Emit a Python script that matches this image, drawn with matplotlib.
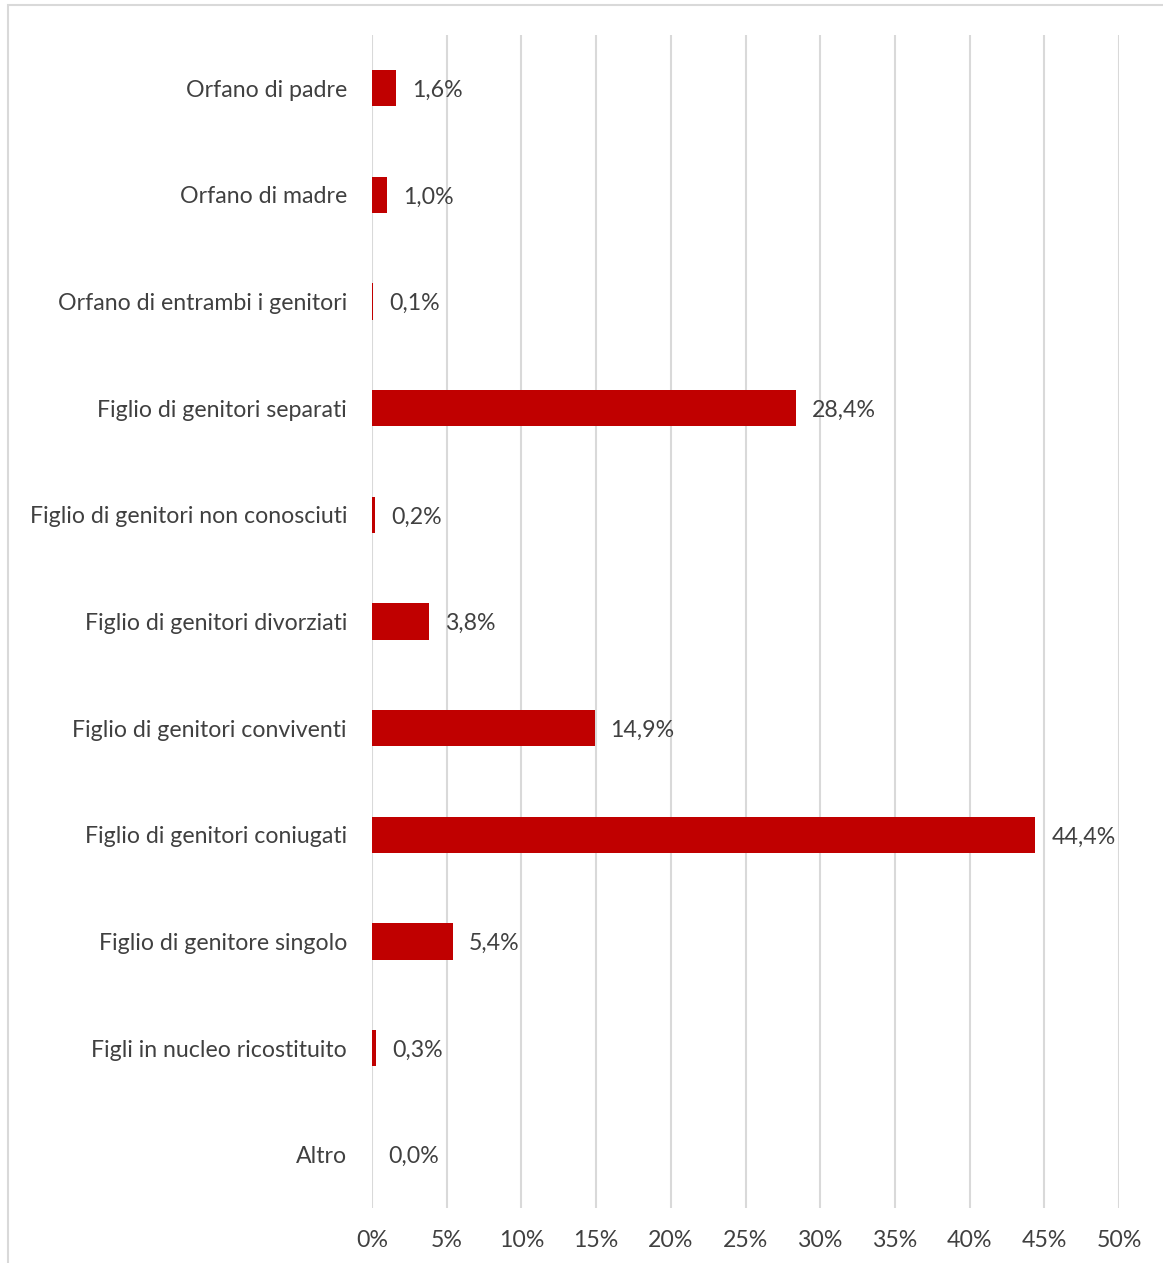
import matplotlib.pyplot as plt
from matplotlib.patches import Rectangle

# Categories and shares (percent), top to bottom
categories = [
    "Orfano di padre",
    "Orfano di madre",
    "Orfano di entrambi i genitori",
    "Figlio di genitori separati",
    "Figlio di genitori non conosciuti",
    "Figlio di genitori divorziati",
    "Figlio di genitori conviventi",
    "Figlio di genitori coniugati",
    "Figlio di genitore singolo",
    "Figli in nucleo ricostituito",
    "Altro",
]
shares = [1.6, 1.0, 0.1, 28.4, 0.2, 3.8, 14.9, 44.4, 5.4, 0.3, 0.0]
x_ticks = list(range(0, 55, 5))

BAR_COLOR = "#C00000"
TEXT_COLOR = "#404040"
GRID_COLOR = "#D9D9D9"
FS = 16.7

plt.rcParams["font.family"] = ["Lato", "DejaVu Sans"]

fig = plt.figure(figsize=(11.63, 12.63), dpi=100)
ax = fig.add_axes([372 / 1163, 1 - 1208 / 1263, (1119 - 372) / 1163, (1208 - 35) / 1263])

ypos = list(range(len(categories)))
ax.barh(ypos, shares, height=0.34, color=BAR_COLOR, zorder=3)

for y, v in zip(ypos, shares):
    ax.annotate(f"{v:.1f}%".replace(".", ","), xy=(v, y), xytext=(11.5, -1.5),
                textcoords="offset points", va="center", ha="left",
                fontsize=FS, color=TEXT_COLOR)

ax.set_xlim(0, 50)
ax.set_ylim(len(categories) - 0.5, -0.5)
ax.set_xticks(x_ticks)
ax.set_xticklabels([f"{t}%" for t in x_ticks])
ax.set_yticks(ypos)
ax.set_yticklabels(categories)

ax.tick_params(axis="x", length=0, pad=16, labelsize=FS, labelcolor=TEXT_COLOR)
ax.tick_params(axis="y", length=0, pad=18, labelsize=FS, labelcolor=TEXT_COLOR)
ax.grid(axis="x", color=GRID_COLOR, linewidth=1.5, zorder=0)
ax.grid(axis="y", visible=False)
for spine in ax.spines.values():
    spine.set_visible(False)

# light frame around the chart area
fig.patches.append(Rectangle((8 / 1163, -0.1), 1.2, 1 - 5 / 1263 + 0.1,
                             transform=fig.transFigure, fill=False,
                             edgecolor="#D9D9D9", linewidth=1.5))

fig.savefig("out.png", dpi=100)
